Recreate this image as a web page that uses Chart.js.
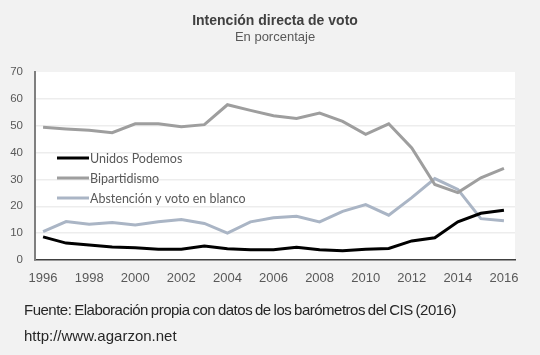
<!DOCTYPE html>
<html>
<head>
<meta charset="utf-8">
<script src="https://cdn.jsdelivr.net/npm/chart.js@4/dist/chart.umd.min.js"></script>
<style>
  html, body { margin: 0; padding: 0; background: #f2f2f2; }
  #wrap { position: relative; width: 540px; height: 355px; }
  canvas { position: absolute; left: 0; top: 0; }
  .foot { position: absolute; left: 24px; font-family: "Liberation Sans", Arial, sans-serif; font-size: 15px; line-height: 17px; color: #262626; white-space: nowrap; }
</style>
</head>
<body>
<div id="wrap">
  <canvas id="c" width="540" height="355"></canvas>
  <div class="foot" style="top:301px; letter-spacing:-0.5px; word-spacing:-0.8px;">Fuente: Elaboración propia con datos de los barómetros del CIS (2016)</div>
  <div class="foot" style="top:327px;">http://www.agarzon.net</div>
</div>
<script>
const years = [1996,1997,1998,1999,2000,2001,2002,2003,2004,2005,2006,2007,2008,2009,2010,2011,2012,2013,2014,2015,2016];
const xTickLabels = [1996,1998,2000,2002,2004,2006,2008,2010,2012,2014,2016];
const yTickLabels = [0,10,20,30,40,50,60,70];
const seriesNames = ["Unidos Podemos", "Bipartidismo", "Abstención y voto en blanco"];
const unidosPodemos = [8.6,6.3,5.6,4.8,4.6,4.0,4.0,5.2,4.2,3.8,3.8,4.7,3.8,3.4,4.0,4.3,7.1,8.3,14.2,17.4,18.5];
const bipartidismo = [49.4,48.8,48.3,47.4,50.7,50.7,49.6,50.4,57.8,55.7,53.7,52.7,54.7,51.6,46.8,50.7,41.7,28.1,25.1,30.6,34.1];
const abstencion = [10.6,14.3,13.3,14.0,13.0,14.2,15.1,13.6,10.0,14.2,15.7,16.3,14.2,18.1,20.6,16.7,23.2,30.3,26.3,15.4,14.6];

const colors = ["#000000", "#9e9e9e", "#aab5c5"];
const seriesValues = [unidosPodemos, bipartidismo, abstencion];

const datasets = seriesNames.map((name, i) => ({
  label: name,
  data: years.map((yr, j) => ({ x: yr, y: seriesValues[i][j] })),
  borderColor: colors[i],
  backgroundColor: colors[i],
  borderWidth: 3,
  pointRadius: 0,
  tension: 0,
  fill: false
}));
datasets[0].order = 1; datasets[1].order = 2; datasets[2].order = 3;

const plotBg = {
  id: 'plotBg',
  beforeDraw(chart) {
    const a = chart.chartArea, ctx = chart.ctx;
    ctx.save();
    ctx.fillStyle = '#ffffff';
    ctx.fillRect(a.left, a.top, a.right - a.left, a.bottom - a.top);
    ctx.restore();
  }
};

const innerLegend = {
  id: 'innerLegend',
  afterDatasetsDraw(chart) {
    const ctx = chart.ctx;
    ctx.save();
    ctx.font = '12.5px Lato, "Open Sans", sans-serif';
    ctx.textBaseline = 'middle';
    ctx.textAlign = 'left';
    const ys = [158, 178, 198];
    chart.data.datasets.forEach((ds, i) => {
      ctx.strokeStyle = ds.borderColor;
      ctx.lineWidth = 3;
      ctx.beginPath();
      ctx.moveTo(57, ys[i]);
      ctx.lineTo(89, ys[i]);
      ctx.stroke();
      ctx.fillStyle = '#595959';
      ctx.fillText(ds.label, 90, ys[i] + 0.5);
    });
    ctx.restore();
  }
};

new Chart(document.getElementById('c'), {
  type: 'line',
  data: { datasets },
  plugins: [plotBg, innerLegend],
  options: {
    responsive: false,
    animation: false,
    layout: { padding: { left: 0, right: 25, top: 0, bottom: 0 } },
    plugins: {
      legend: { display: false },
      tooltip: { enabled: false },
      title: {
        display: true,
        fullSize: false,
        text: 'Intención directa de voto',
        color: '#404040',
        font: { family: '"Liberation Sans", Arial, sans-serif', size: 14, weight: 'bold', lineHeight: 1.2 },
        padding: { top: 12.5, bottom: 0 }
      },
      subtitle: {
        display: true,
        fullSize: false,
        text: 'En porcentaje',
        color: '#595959',
        font: { family: '"Liberation Sans", Arial, sans-serif', size: 13, lineHeight: 1.2 },
        padding: { top: 0.5, bottom: 26.6 }
      }
    },
    scales: {
      x: {
        type: 'linear',
        min: 1995.65,
        max: 2016.48,
        afterBuildTicks(scale) { scale.ticks = xTickLabels.map(v => ({ value: v })); },
        afterFit(scale) { scale.height = 95; },
        grid: { display: false, drawTicks: false },
        border: { display: true, color: '#404040', width: 1.5 },
        ticks: {
          color: '#595959',
          font: { family: '"Liberation Sans", Arial, sans-serif', size: 13 },
          padding: 11,
          maxRotation: 0,
          autoSkip: false,
          callback: v => String(v)
        }
      },
      y: {
        min: 0,
        max: 70,
        afterBuildTicks(scale) { scale.ticks = yTickLabels.map(v => ({ value: v })); },
        afterFit(scale) { scale.width = 35; },
        grid: {
          drawTicks: false,
          color: ctx => (ctx.tick && (ctx.tick.value === 0 || ctx.tick.value === 70)) ? 'rgba(0,0,0,0)' : '#ededed',
          lineWidth: 1.5
        },
        border: { display: true, color: '#7f7f7f', width: 2 },
        ticks: {
          color: '#595959',
          font: { family: '"Liberation Sans", Arial, sans-serif', size: 11.5 },
          padding: 12
        }
      }
    }
  }
});
</script>
</body>
</html>
